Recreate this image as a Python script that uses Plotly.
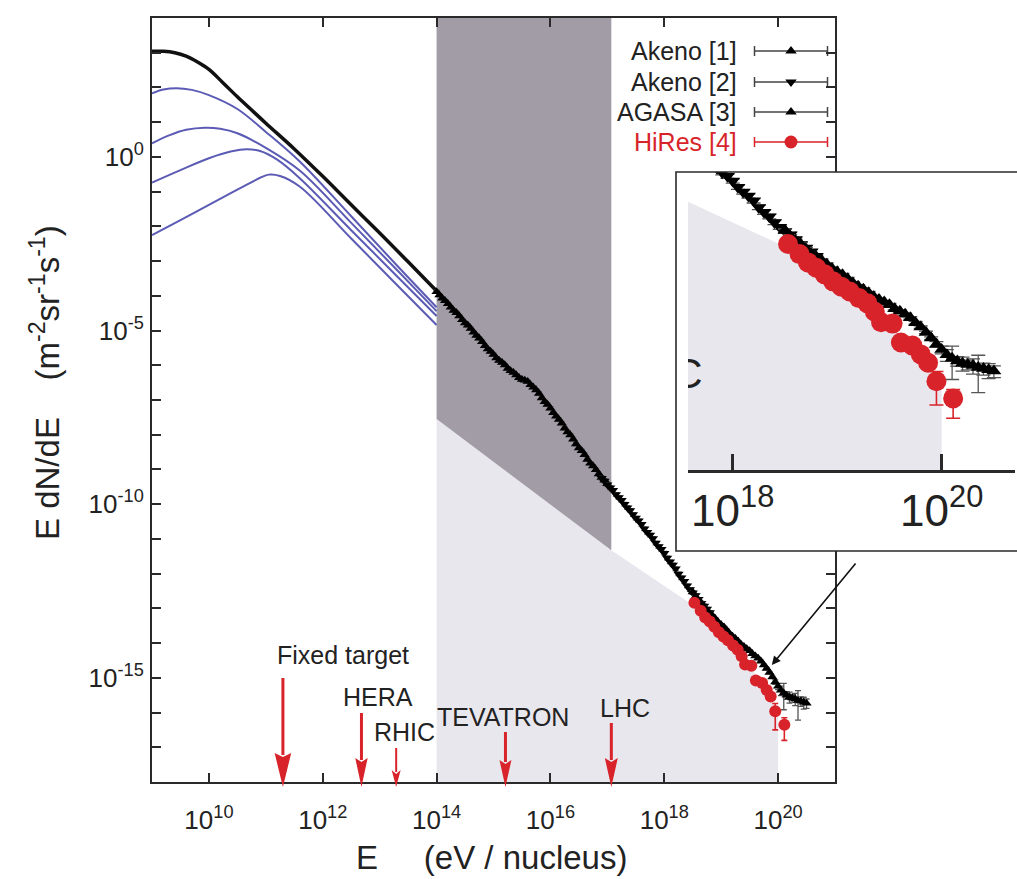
import numpy as np
import plotly.graph_objects as go

FIG_W, FIG_H = 1017, 879
FONT = "Liberation Sans, Arial, Helvetica, sans-serif"
AXC = "#2a2a2a"
RED = "#d8232a"
BLUE = "#5b5bb5"
DARK_BAND = "#a29ca6"
LIGHT_BAND = "#e9e7ee"

# ---------------- data (log10 E [eV], log10 E dN/dE [m^-2 sr^-1 s^-1]) ----------------
# all-particle spectrum from direct measurements
allpart_logE = [9.0, 9.2, 9.4, 9.6, 9.8, 10.0, 10.25, 10.5, 10.75, 11.0, 11.5, 12.0, 12.5, 13.0, 13.5, 14.0]
allpart_logF = [3.04, 3.04, 3.00, 2.90, 2.73, 2.52, 2.13, 1.73, 1.35, 0.97, 0.23, -0.56, -1.38, -2.19, -3.02, -3.86]

# individual components
compA_logE = [9.0, 9.2, 9.43, 9.7, 10.0, 10.5, 11.0, 11.6, 12.5, 13.3, 14.0]
compA_logF = [1.83, 1.94, 1.98, 1.93, 1.78, 1.38, 0.72, -0.14, -1.71, -3.12, -4.33]
compB_logE = [9.0, 9.3, 9.6, 9.93, 10.2, 10.5, 11.0, 11.6, 12.5, 13.3, 14.0]
compB_logF = [0.39, 0.62, 0.78, 0.84, 0.81, 0.68, 0.26, -0.40, -1.90, -3.25, -4.44]
compC_logE = [9.0, 9.5, 10.0, 10.4, 10.66, 10.9, 11.2, 11.6, 12.5, 13.3, 14.0]
compC_logF = [-0.74, -0.38, -0.04, 0.16, 0.22, 0.17, -0.08, -0.62, -2.11, -3.43, -4.58]
compD_logE = [9.0, 9.5, 10.0, 10.4, 10.7, 10.9, 11.05, 11.25, 11.6, 12.5, 13.3, 14.0]
compD_logF = [-2.25, -1.82, -1.38, -1.03, -0.77, -0.60, -0.51, -0.55, -0.86, -2.35, -3.68, -4.84]

# Akeno [1]
akeno1_logE = [14.00, 14.05, 14.10, 14.15, 14.20, 14.25, 14.30, 14.35, 14.40, 14.45, 14.50, 14.55, 14.60,
               14.65, 14.70, 14.75, 14.80, 14.85, 14.90, 14.95, 15.00, 15.05, 15.10, 15.15, 15.20, 15.25,
               15.30, 15.35, 15.40, 15.45, 15.50, 15.55, 15.60, 15.65, 15.70, 15.75, 15.80, 15.85, 15.90,
               15.95, 16.00, 16.05, 16.10, 16.15, 16.20, 16.25, 16.30, 16.35, 16.40, 16.45, 16.50, 16.55,
               16.60, 16.65, 16.70, 16.75, 16.80, 16.85, 16.90, 16.95, 17.00]
akeno1_logF = [-3.88, -3.98, -4.07, -4.14, -4.23, -4.33, -4.42, -4.49, -4.58, -4.69, -4.78, -4.85, -4.94,
               -5.05, -5.14, -5.22, -5.32, -5.44, -5.53, -5.60, -5.69, -5.79, -5.86, -5.92, -5.99, -6.09,
               -6.16, -6.21, -6.28, -6.36, -6.41, -6.43, -6.47, -6.56, -6.63, -6.71, -6.81, -6.94, -7.05,
               -7.13, -7.24, -7.37, -7.47, -7.56, -7.67, -7.81, -7.92, -8.01, -8.13, -8.27, -8.38, -8.46,
               -8.58, -8.71, -8.82, -8.90, -9.01, -9.13, -9.23, -9.31, -9.41]
akeno1_err = [0.04] * 61

# Akeno [2]
akeno2_logE = [16.90, 16.95, 17.00, 17.05, 17.10, 17.15, 17.20, 17.25, 17.30, 17.35, 17.40, 17.45, 17.50,
               17.55, 17.60, 17.65, 17.70, 17.75, 17.80, 17.85, 17.90, 17.95, 18.00, 18.05, 18.10, 18.15,
               18.20, 18.25, 18.30, 18.35, 18.40, 18.45, 18.50, 18.55, 18.60, 18.65, 18.70, 18.75, 18.80]
akeno2_logF = [-9.25, -9.33, -9.44, -9.53, -9.60, -9.72, -9.81, -9.89, -10.00, -10.10, -10.18, -10.30, -10.40,
               -10.48, -10.58, -10.71, -10.81, -10.89, -10.99, -11.12, -11.22, -11.30, -11.41, -11.55, -11.66,
               -11.75, -11.86, -12.01, -12.12, -12.22, -12.35, -12.46, -12.55, -12.63, -12.74, -12.85, -12.93,
               -13.02, -13.12]
akeno2_err = [0.05] * 39

# AGASA [3]
agasa_logE = [18.50, 18.55, 18.60, 18.65, 18.70, 18.75, 18.80, 18.85, 18.90, 18.95, 19.00, 19.05, 19.10,
              19.15, 19.20, 19.25, 19.30, 19.35, 19.40, 19.45, 19.50, 19.55, 19.60, 19.65, 19.70, 19.75,
              19.80, 19.85, 19.90, 19.95, 20.00, 20.05, 20.10, 20.15, 20.20, 20.25, 20.30, 20.35, 20.40,
              20.45, 20.50]
agasa_logF = [-12.53, -12.66, -12.76, -12.84, -12.95, -13.06, -13.14, -13.21, -13.30, -13.40, -13.47, -13.54,
              -13.63, -13.73, -13.80, -13.87, -13.95, -14.04, -14.10, -14.16, -14.22, -14.31, -14.37, -14.44,
              -14.52, -14.63, -14.73, -14.85, -14.98, -15.12, -15.24, -15.36, -15.44, -15.50, -15.55, -15.58,
              -15.60, -15.65, -15.67, -15.70, -15.73]
agasa_err_up = [0.03] * 29 + [0.06, 0.08, 0.12, 0.28, 0.10, 0.14, 0.10, 0.15, 0.28, 0.12, 0.14, 0.12]
agasa_err_dn = [0.03] * 29 + [0.07, 0.10, 0.15, 0.48, 0.12, 0.18, 0.12, 0.20, 0.57, 0.15, 0.20, 0.15]

# HiRes [4]
hires_logE = [18.53, 18.64, 18.72, 18.80, 18.88, 18.96, 19.04, 19.12, 19.21, 19.29, 19.36, 19.42, 19.53, 19.61,
              19.72, 19.80, 19.87, 19.95, 20.11]
hires_logF = [-12.84, -13.07, -13.26, -13.38, -13.53, -13.69, -13.81, -13.92, -14.07, -14.19, -14.38, -14.62,
              -14.65, -15.08, -15.15, -15.35, -15.54, -15.96, -16.35]
hires_err_up = [0.04] * 17 + [0.22, 0.20]
hires_err_dn = [0.04] * 17 + [0.54, 0.45]

# shaded energy regions
band_logE = [14.0, 14.0, 17.07, 17.07]
band_logF = [-7.55, 4.0, 4.0, -11.33]
reach_logE = [14.0, 14.0, 17.07, 18.5, 19.0, 19.5, 19.8, 20.0, 20.0]
reach_logF = [-18.0, -7.55, -11.33, -12.9, -13.75, -14.65, -15.35, -16.0, -18.0]

# accelerators (equivalent fixed-target energy)
acc_names = ["Fixed target", "HERA", "RHIC", "TEVATRON", "LHC"]
acc_logE = [11.30, 12.68, 13.29, 15.21, 17.07]
acc_label_logE = [12.36, 12.97, 13.445, 15.17, 17.31]
acc_label_logF = [-14.34, -15.55, -16.56, -16.13, -15.87]

legend_names = ["Akeno [1]", "Akeno [2]", "AGASA [3]", "HiRes [4]"]

# axis ticks
x_tick_exp = [10, 12, 14, 16, 18, 20]
y_minor_exp = list(range(-18, 5))
y_label_exp = [-15, -10, -5, 0]
inset_tick_exp = [18, 20]


def lin(v):
    return [10.0 ** t for t in v]


def err_abs(logf, up, dn):
    y = np.power(10.0, np.array(logf))
    return list(y * (np.power(10.0, up) - 1.0)), list(y * (1.0 - np.power(10.0, -np.array(dn))))


W, H = FIG_W, FIG_H
fig = go.Figure()


def add_panel(xa, ya, tri, circ, capw):
    # shaded regions
    fig.add_trace(go.Scatter(x=lin(reach_logE), y=lin(reach_logF), fill="toself", fillcolor=LIGHT_BAND,
                             mode="none", xaxis=xa, yaxis=ya, hoverinfo="skip", showlegend=False))
    fig.add_trace(go.Scatter(x=lin(band_logE), y=lin(band_logF), fill="toself", fillcolor=DARK_BAND,
                             mode="none", xaxis=xa, yaxis=ya, hoverinfo="skip", showlegend=False))
    # components and total
    for ex, fx in [(compA_logE, compA_logF), (compB_logE, compB_logF),
                   (compC_logE, compC_logF), (compD_logE, compD_logF)]:
        fig.add_trace(go.Scatter(x=lin(ex), y=lin(fx), mode="lines", line=dict(color=BLUE, width=2, shape="spline"),
                                 xaxis=xa, yaxis=ya, showlegend=False))
    fig.add_trace(go.Scatter(x=lin(allpart_logE), y=lin(allpart_logF), mode="lines",
                             line=dict(color="#111111", width=3.5, shape="spline"),
                             xaxis=xa, yaxis=ya, showlegend=False))
    # air-shower data
    sets = [
        (akeno1_logE, akeno1_logF, akeno1_err, akeno1_err, "triangle-up"),
        (akeno2_logE, akeno2_logF, akeno2_err, akeno2_err, "triangle-down"),
        (agasa_logE, agasa_logF, agasa_err_up, agasa_err_dn, "triangle-up"),
    ]
    for ex, fx, eu, ed, sym in sets:
        up, dn = err_abs(fx, eu, ed)
        fig.add_trace(go.Scatter(
            x=lin(ex), y=lin(fx), mode="markers",
            marker=dict(symbol=sym, size=tri, color="#000000", line=dict(width=0)),
            error_y=dict(type="data", symmetric=False, array=up, arrayminus=dn,
                         color="#555555", thickness=1.3, width=capw),
            xaxis=xa, yaxis=ya, showlegend=False))
    up, dn = err_abs(hires_logF, hires_err_up, hires_err_dn)
    fig.add_trace(go.Scatter(
        x=lin(hires_logE), y=lin(hires_logF), mode="markers",
        marker=dict(symbol="circle", size=circ, color=RED, line=dict(width=0)),
        error_y=dict(type="data", symmetric=False, array=up, arrayminus=dn,
                     color=RED, thickness=1.6, width=capw),
        xaxis=xa, yaxis=ya, showlegend=False))


add_panel("x", "y", 9, 12, 3)
add_panel("x2", "y2", 13, 20, 7)

# accelerator labels seen through the magnified panel (clipped to it)
fig.add_trace(go.Scatter(x=lin(acc_label_logE), y=lin(acc_label_logF), mode="text", text=acc_names,
                         textfont=dict(family=FONT, size=42, color="#222222"),
                         xaxis="x2", yaxis="y2", showlegend=False, cliponaxis=True))

# legend samples on an overlay axis
legend_rows = [51, 82, 112, 142]
legend_syms = ["triangle-up", "triangle-down", "triangle-up", "circle"]
legend_cols = ["#000000", "#000000", "#000000", RED]
legend_bar = ["#444444", "#444444", "#444444", RED]
for row, sym, col, bc in zip(legend_rows, legend_syms, legend_cols, legend_bar):
    fig.add_trace(go.Scatter(
        x=[791], y=[row], mode="markers",
        marker=dict(symbol=sym, size=13 if sym == "circle" else 10, color=col, line=dict(width=0)),
        error_x=dict(type="constant", value=36.5, color=bc, thickness=1.5, width=5),
        xaxis="x3", yaxis="y3", showlegend=False))

shapes = []
# accelerator arrows
arrow_top = [104, 69, 34, 50, 59]
head_base = [29, 24, 12, 22, 24]
head_half = [8.3, 6.2, 4.5, 6.0, 6.5]
shaft_w = [3, 3, 2, 3, 3]
for lg, top, base, hw, lw in zip(acc_logE, arrow_top, head_base, head_half, shaft_w):
    xv = 10.0 ** lg
    shapes.append(dict(type="line", xref="x", yref="y domain", x0=xv, x1=xv, ysizemode="pixel", yanchor=0,
                       y0=base - 2, y1=top, line=dict(color=RED, width=lw), layer="above"))
    shapes.append(dict(type="path", xref="x", yref="y domain", xsizemode="pixel", xanchor=xv,
                       ysizemode="pixel", yanchor=0,
                       path=f"M0,-5 L{-hw},{base} L0,{base - 4} L{hw},{base} Z",
                       fillcolor=RED, line=dict(width=0), layer="above"))
# inset frame
shapes.append(dict(type="rect", xref="paper", yref="paper", x0=676 / W, x1=1.03, y0=1 - 551 / H, y1=1 - 172 / H,
                   line=dict(color=AXC, width=1.6), fillcolor="rgba(0,0,0,0)", layer="above"))

annotations = []
for name, lx, ly in zip(acc_names, acc_label_logE, acc_label_logF):
    annotations.append(dict(text=name, x=lx, y=ly, xref="x", yref="y", showarrow=False,
                            xanchor="center", yanchor="middle",
                            font=dict(family=FONT, size=25, color="#222222")))
for name, row, col in zip(legend_names, legend_rows, ["#222222"] * 3 + [RED]):
    annotations.append(dict(text=name, x=739 / W, y=1 - row / H, xref="paper", yref="paper", showarrow=False,
                            xanchor="right", yanchor="middle", font=dict(family=FONT, size=25, color=col)))
annotations.append(dict(text="E\u00a0\u00a0\u00a0\u00a0\u00a0(eV / nucleus)", x=491 / W, y=1 - 857 / H,
                        xref="paper", yref="paper", showarrow=False, xanchor="center", yanchor="middle",
                        font=dict(family=FONT, size=33, color="#222222")))
annotations.append(dict(text="E dN/dE\u00a0\u00a0\u00a0\u00a0(m<sup>-2</sup>sr<sup>-1</sup>s<sup>-1</sup>)",
                        x=45 / W, y=1 - 383 / H, xref="paper", yref="paper", showarrow=False, textangle=-90,
                        xanchor="center", yanchor="middle", font=dict(family=FONT, size=33, color="#222222")))
# pointer from the magnified panel to the highest-energy data
annotations.append(dict(text="", x=19.89, y=-14.63, xref="x", yref="y", ax=85, ay=-103,
                        showarrow=True, arrowhead=2, arrowsize=1.1, arrowwidth=1.6, arrowcolor="#111111"))

axis_style = dict(showline=True, linecolor=AXC, linewidth=2, mirror="ticks", ticks="inside", ticklen=9,
                  tickwidth=2, tickcolor=AXC, showgrid=False, zeroline=False,
                  tickfont=dict(family=FONT, size=26, color="#222222"))

fig.update_layout(
    width=W, height=H, margin=dict(l=0, r=0, t=0, b=0),
    paper_bgcolor="white", plot_bgcolor="white", showlegend=False,
    xaxis=dict(type="log", range=[9, 21], domain=[152 / W, 835 / W], anchor="y",
               tickvals=[10.0 ** k for k in x_tick_exp],
               ticktext=[f"10<sup>{k}</sup>" for k in x_tick_exp],
               ticklabelstandoff=14, **axis_style),
    yaxis=dict(type="log", range=[-18, 4], domain=[1 - 782 / H, 1 - 18 / H], anchor="x",
               tickvals=[10.0 ** k for k in y_label_exp],
               ticktext=[f"10<sup>{k}</sup>" for k in y_label_exp],
               minor=dict(tickmode="array", tickvals=[10.0 ** k for k in y_minor_exp], ticks="inside",
                          ticklen=9, tickwidth=2, tickcolor=AXC, showgrid=False),
               ticklabelstandoff=1, **axis_style),
    xaxis2=dict(type="log", range=[17.572, 20.702], domain=[688 / W, 1015 / W], anchor="free",
                position=1 - 471 / H, showline=True, linecolor=AXC, linewidth=2.5, ticks="inside", ticklen=16,
                tickwidth=2.5, tickcolor=AXC, showgrid=False, zeroline=False,
                tickvals=[10.0 ** k for k in inset_tick_exp],
                ticktext=[f"10<sup>{k}</sup>" for k in inset_tick_exp],
                tickfont=dict(family=FONT, size=44, color="#222222")),
    yaxis2=dict(type="log", range=[-19.818, -11.205], domain=[1 - 551 / H, 1 - 172 / H], anchor="x2",
                visible=False, showgrid=False, zeroline=False),
    xaxis3=dict(overlaying="x", range=[152, 835], visible=False, showgrid=False, zeroline=False),
    yaxis3=dict(overlaying="y", range=[782, 18], visible=False, showgrid=False, zeroline=False),
    shapes=shapes, annotations=annotations,
)

fig.write_html("out.html")
